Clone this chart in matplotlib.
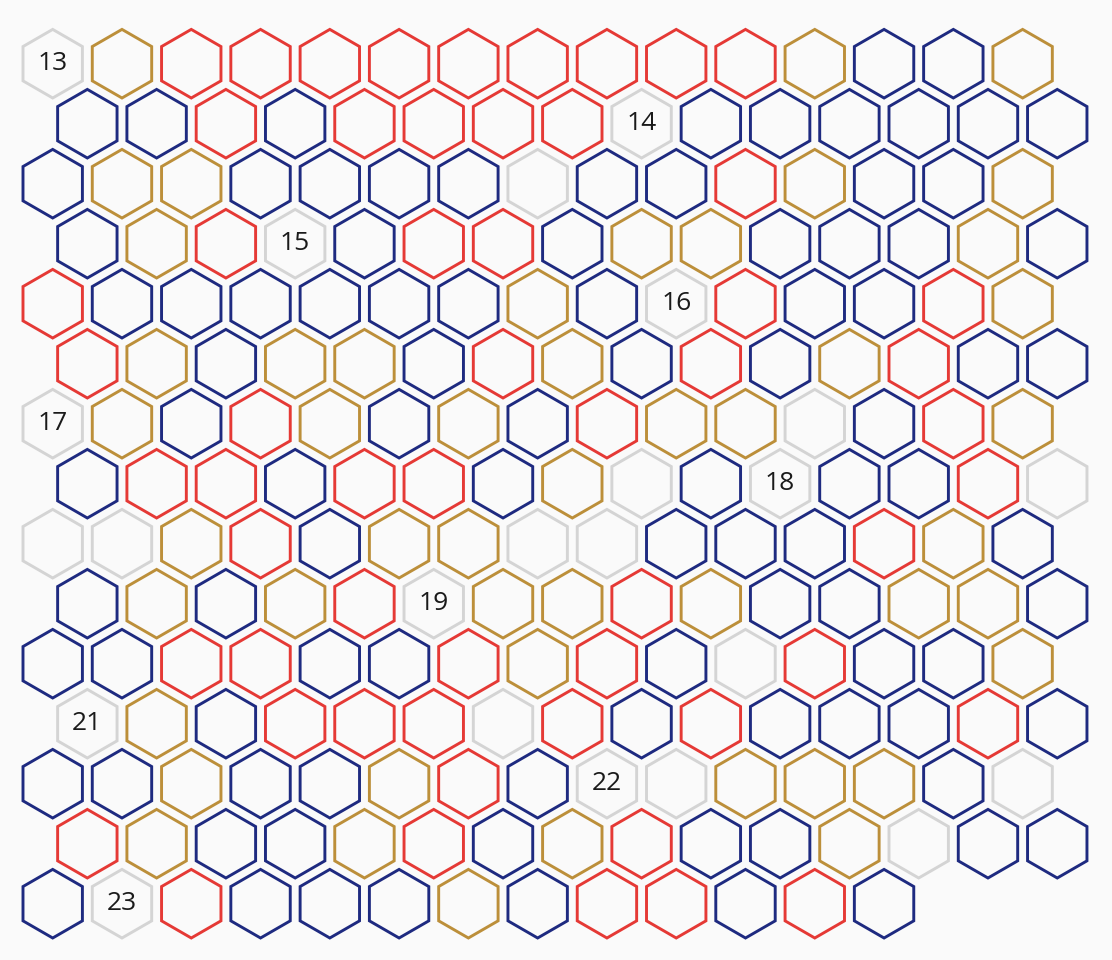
import matplotlib.pyplot as plt
from matplotlib.patches import RegularPolygon

# one string per row of the hex grid, one letter per cell
# r = red, y = gold, n = navy, g = grey
rows = [
    "gyrrrrrrrrrynny",
    "nnrnrrrrgnnnnnn",
    "nyynnnngnnrynny",
    "nyrgnrrnyynnnyn",
    "rnnnnnnyngrnnry",
    "rynyynrynrnyrnn",
    "gynrynynryygnry",
    "nrrnrrnygngnnrg",
    "ggyrnyyggnnnryn",
    "nynyrgyyrynnyyn",
    "nnrrnnryrngrnny",
    "gynrrrgrnrnnnrn",
    "nnynnyrnggyyyng",
    "rynnyrnyrnnygnn",
    "ngrnnnynrrnrn",
]

# numbered cells: (row, column, label)
label_rows = [0, 1, 3, 4, 6, 7, 9, 11, 12, 14]
label_cols = [0, 8, 3, 9, 0, 10, 5, 0, 8, 1]
label_text = ["13", "14", "15", "16", "17", "18", "19", "21", "22", "23"]

colors = {
    "r": "#e53935",
    "y": "#bc8f3a",
    "n": "#1e2a80",
    "g": "#d4d4d4",
}

dx = 69.28   # column spacing in pixels
dy = 60.0    # row spacing in pixels
x0, y0 = 52.7, 63.7


def center(r, c):
    return x0 + c * dx + (r % 2) * dx / 2, y0 + r * dy


fig = plt.figure(figsize=(11.12, 9.6), dpi=100)
fig.patch.set_facecolor("#fafafa")
ax = fig.add_axes([0, 0, 1, 1])
ax.set_facecolor("#fafafa")
ax.set_xlim(0, 1112)
ax.set_ylim(960, 0)
ax.axis("off")

for r, row in enumerate(rows):
    for c, code in enumerate(row):
        hexagon = RegularPolygon(center(r, c), numVertices=6, radius=34.3,
                                 orientation=0, fill=False,
                                 edgecolor=colors[code], linewidth=2.1)
        ax.add_patch(hexagon)

for r, c, t in zip(label_rows, label_cols, label_text):
    x, y = center(r, c)
    ax.text(x, y, t, ha="center", va="center", fontsize=19,
            family="Open Sans", color="#1a1a1a")

fig.savefig("out.png", dpi=100, facecolor=fig.get_facecolor())
